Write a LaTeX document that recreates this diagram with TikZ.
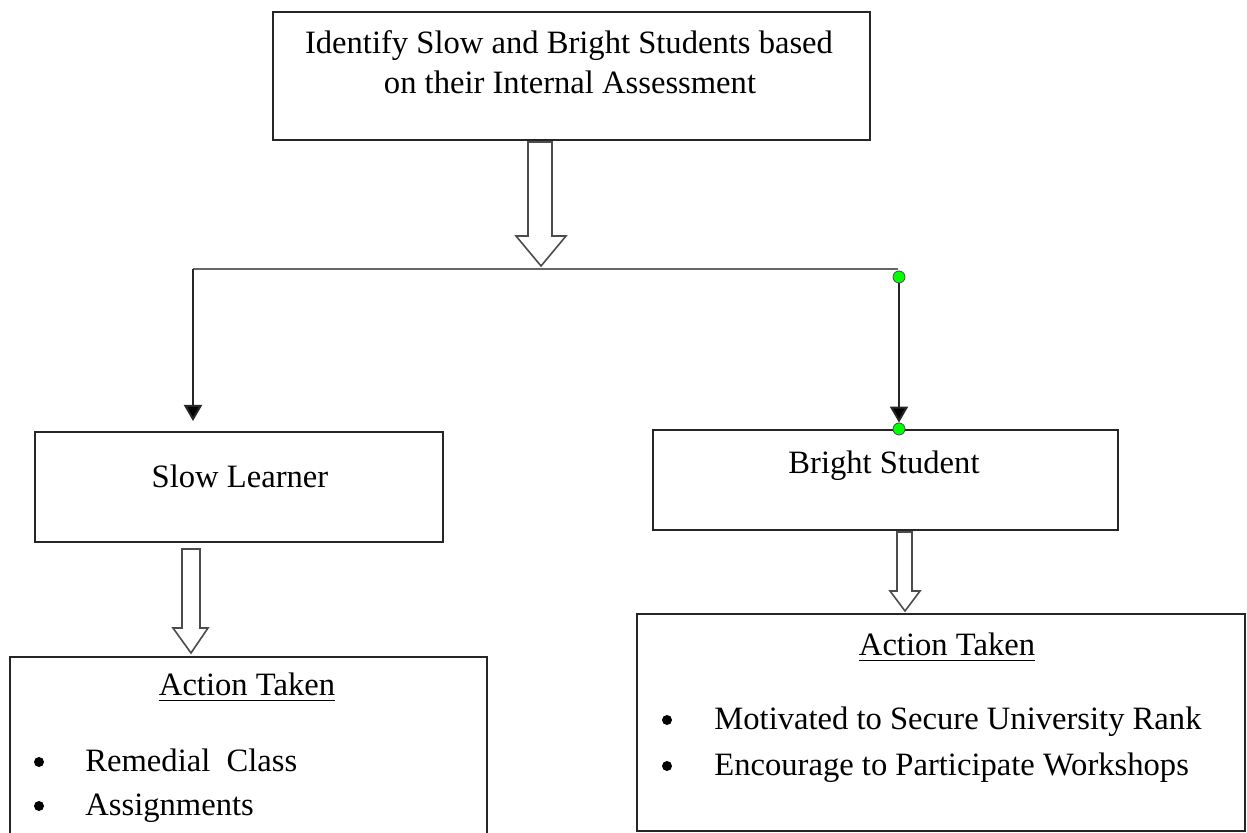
\documentclass[tikz,border=0pt]{standalone}
\usepackage{fontspec}
\setmainfont{Liberation Serif}
\usetikzlibrary{arrows.meta,calc}
\begin{document}
\begin{tikzpicture}[x=0.5pt,y=-0.5pt,
  box/.style={draw=black!85,line width=1pt,inner sep=0pt,fill=none},
  txt/.style={anchor=base,inner sep=0pt,font=\fontsize{16.3}{19.5}\selectfont},
  lefttxt/.style={anchor=base west,inner sep=0pt,font=\fontsize{16.3}{19.5}\selectfont},
  blockarrow/.style={draw=black!70,line width=0.8pt,fill=white,line join=miter},
  conn/.style={draw=black!85,line width=1pt},
  hconn/.style={draw=black!60,line width=1pt},
  tip/.style={-{Triangle[width=9pt,length=8pt,fill=black]}},
  uline/.style={line width=0.8pt,draw=black},
  bul/.style={circle,fill=black,minimum size=5pt,inner sep=0pt},
  gdot/.style={circle,fill=green,draw=black!70,line width=0.4pt,minimum size=6pt,inner sep=0pt}]
\useasboundingbox (0,0) rectangle (1247,833);
\clip (0,0) rectangle (1247,833);
\fill[white] (0,0) rectangle (1247,833);

% boxes
\node[box,minimum width=298.5pt,minimum height=64pt] (top) at (571.5,76) {};
\node[box,minimum width=204pt,minimum height=55pt] (slow) at (239,487) {};
\node[box,minimum width=232.5pt,minimum height=50pt] (bright) at (885.5,480) {};
\node[box,minimum width=238.5pt,minimum height=101.5pt] (slowact) at (248.5,758.5) {};
\node[box,minimum width=304pt,minimum height=108.5pt] (brightact) at (941,722.5) {};

% block arrows
\draw[blockarrow] (528,142) -- (528,236) -- (516,236) -- (541,266) -- (566,236) -- (552,236) -- (552,142) -- cycle;
\draw[blockarrow] (182,549) -- (182,628) -- (173,628) -- (191,653) -- (208,628) -- (200,628) -- (200,549) -- cycle;
\draw[blockarrow] (897,532) -- (897,591) -- (890,591) -- (905,611) -- (920,591) -- (912,591) -- (912,532) -- cycle;

% connectors
\coordinate (jl) at (193,269);
\coordinate (jr) at (898,269);
\draw[hconn] (jr) -- (jl);
\draw[conn,tip,shorten >=5pt] (jl) -- (jl |- slow.north);
\node[gdot] (g1) at (899,277) {};
\node[gdot] (g2) at (bright.north -| g1) {};
\draw[conn,tip] (g1) -- (g2);

% texts
\node[txt] (t1) at (569,54) {Identify Slow and Bright Students based};
\node[txt] (t2) at (570,94) {on their Internal Assessment};
\node[txt] (slowt) at (240,488) {Slow Learner};
\node[txt] (brightt) at (884,474) {Bright Student};

\node[txt] (act1) at (247,695) {Action Taken};
\draw[uline] ([yshift=-2.8pt]act1.base west) -- ([yshift=-2.8pt]act1.base east);
\node[bul] (b1) at (39,762) {};
\node[lefttxt] (r1) at (85,771) {Remedial\ \ Class};
\node[bul] (b2) at (39,806) {};
\node[lefttxt] (r2) at (85,815) {Assignments};

\node[txt] (act2) at (947,655) {Action Taken};
\draw[uline] ([yshift=-2.8pt]act2.base west) -- ([yshift=-2.8pt]act2.base east);
\node[bul] (b3) at (667,720) {};
\node[lefttxt] (m1) at (714,729) {Motivated to Secure University Rank};
\node[bul] (b4) at (667,766) {};
\node[lefttxt] (m2) at (714,775) {Encourage to Participate Workshops};
\end{tikzpicture}
\end{document}
